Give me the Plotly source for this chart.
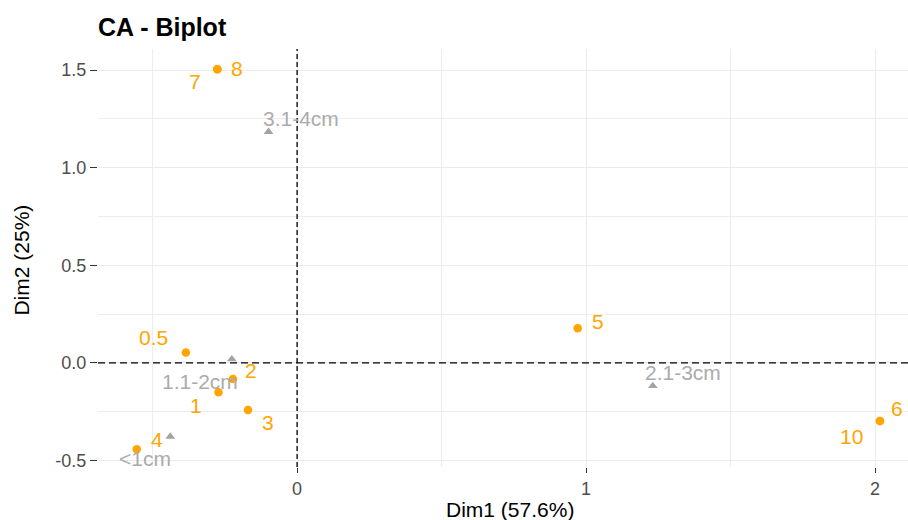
import plotly.graph_objects as go

# Row coordinates (number of items) on the first two CA dimensions
row_names = ["0.5", "1", "2", "3", "4", "5", "6", "7", "8", "10"]
row_dim1 = [-0.385, -0.272, -0.222, -0.170, -0.555, 0.971, 2.017, -0.276, -0.276, 2.017]
row_dim2 = [0.053, -0.150, -0.082, -0.241, -0.442, 0.178, -0.297, 1.504, 1.504, -0.297]

# Column coordinates (size classes)
col_names = ["<1cm", "1.1-2cm", "2.1-3cm", "3.1-4cm"]
col_dim1 = [-0.439, -0.226, 1.231, -0.099]
col_dim2 = [-0.377, 0.019, -0.118, 1.184]

x_ticks = [0, 1, 2]
x_tick_labels = ["0", "1", "2"]
y_ticks = [-0.5, 0.0, 0.5, 1.0, 1.5]
y_tick_labels = ["-0.5", "0.0", "0.5", "1.0", "1.5"]

title_text = "CA - Biplot"
x_title = "Dim1 (57.6%)"
y_title = "Dim2 (25%)"

# label nudges in pixels (dx, dy with dy pointing up), repel-style placement
row_label_shift = {
    "0.5": (-32, 15), "1": (-23, -13), "2": (18, 8), "3": (20, -13),
    "4": (20, 10), "5": (20, 7), "6": (17, 12), "7": (-22, -12),
    "8": (20, 1), "10": (-28, -16),
}
col_label_shift = {
    "<1cm": (-25, -22), "1.1-2cm": (-32, -22),
    "2.1-3cm": (30, 13), "3.1-4cm": (32, 13),
}

FONT = "Liberation Sans, Arial, Helvetica, sans-serif"
ORANGE = "#FFA500"
GREY_PT = "#A3A3A3"
GREY_TXT = "#ABABAB"

fig = go.Figure()

fig.add_trace(go.Scatter(
    x=row_dim1, y=row_dim2, mode="markers",
    marker=dict(color=ORANGE, size=8.5, symbol="circle"),
    hovertext=row_names, showlegend=False,
))
fig.add_trace(go.Scatter(
    x=col_dim1, y=col_dim2, mode="markers",
    marker=dict(color=GREY_PT, size=8.5, symbol="triangle-up"),
    hovertext=col_names, showlegend=False,
))

annotations = []
for name, x, y in zip(row_names, row_dim1, row_dim2):
    dx, dy = row_label_shift[name]
    annotations.append(dict(
        x=x, y=y, xref="x", yref="y", text=name, showarrow=False,
        xshift=dx, yshift=dy, font=dict(family=FONT, size=21, color=ORANGE),
    ))
for name, x, y in zip(col_names, col_dim1, col_dim2):
    dx, dy = col_label_shift[name]
    annotations.append(dict(
        x=x, y=y, xref="x", yref="y", text=name, showarrow=False,
        xshift=dx, yshift=dy, font=dict(family=FONT, size=21, color=GREY_TXT),
    ))

# axis titles
annotations.append(dict(
    x=0.5086, y=-0.1005, xref="paper", yref="paper", text=x_title,
    showarrow=False, xanchor="center", yanchor="middle",
    font=dict(family=FONT, size=21, color="#000000"),
))
annotations.append(dict(
    x=-0.0945, y=0.495, xref="paper", yref="paper", text=y_title,
    showarrow=False, xanchor="center", yanchor="middle", textangle=-90,
    font=dict(family=FONT, size=21, color="#000000"),
))

shapes = [
    dict(type="line", xref="x", yref="paper", x0=0, x1=0, y0=0, y1=1,
         line=dict(color="#000000", width=1.3, dash="5px,3px"), layer="above"),
    dict(type="line", xref="paper", yref="y", x0=0, x1=1, y0=0, y1=0,
         line=dict(color="#000000", width=1.3, dash="7px,4px"), layer="above"),
]

fig.update_layout(
    width=908, height=520,
    margin=dict(l=98, r=0, t=49, b=53),
    paper_bgcolor="white", plot_bgcolor="white",
    title=dict(text=title_text, x=0, xref="paper", xanchor="left",
               y=1 - 27 / 520, yref="container", yanchor="middle",
               font=dict(family=FONT, size=25, color="#000000", weight="bold")),
    annotations=annotations,
    shapes=shapes,
    showlegend=False,
)

fig.update_xaxes(
    range=[-0.689, 2.114], tickvals=x_ticks, ticktext=x_tick_labels,
    showgrid=True, gridcolor="#EBEBEB", gridwidth=1.2, zeroline=False,
    minor=dict(tickvals=[-0.5, 0.5, 1.5], showgrid=True, gridcolor="#EDEDED", gridwidth=0.9),
    ticks="outside", ticklen=5, tickwidth=1.2, tickcolor="#333333",
    tickfont=dict(family=FONT, size=18, color="#4D4D4D"),
    showline=False,
)
fig.update_yaxes(
    range=[-0.533, 1.608], tickvals=y_ticks, ticktext=y_tick_labels,
    showgrid=True, gridcolor="#EBEBEB", gridwidth=1.2, zeroline=False,
    minor=dict(tickvals=[-0.25, 0.25, 0.75, 1.25], showgrid=True, gridcolor="#EDEDED", gridwidth=0.9),
    ticks="outside", ticklen=7, tickwidth=1.2, tickcolor="#333333",
    tickfont=dict(family=FONT, size=18, color="#4D4D4D"),
    showline=False,
)

fig.write_html("out.html")
